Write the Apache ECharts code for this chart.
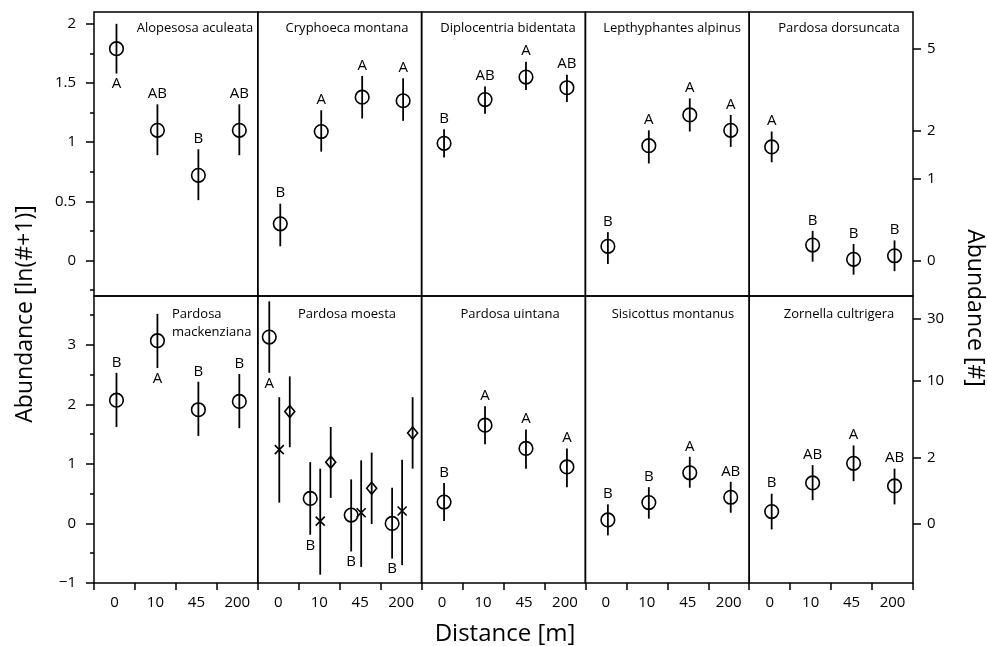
<!DOCTYPE html>
<html>
<head>
<meta charset="utf-8">
<script src="https://cdn.jsdelivr.net/npm/echarts@6/dist/echarts.min.js"></script>
<style>
html, body { margin: 0; padding: 0; background: #fff; }
#main { width: 987px; height: 646px; }
</style>
</head>
<body>
<div id="main"></div>
<script>
// distance classes along the x axis
const distances = ['0', '10', '45', '200'];

// abundance ln(#+1): mean, lower / upper end of bar, letters (top row)
const alopMean = [1.79, 1.10, 0.72, 1.10];
const alopLow = [1.58, 0.89, 0.51, 0.89];
const alopHigh = [2.00, 1.32, 0.94, 1.32];
const alopLetters = ['A', 'AB', 'B', 'AB'];

const cryphMean = [0.31, 1.09, 1.38, 1.35];
const cryphLow = [0.12, 0.92, 1.20, 1.18];
const cryphHigh = [0.48, 1.27, 1.56, 1.54];
const cryphLetters = ['B', 'A', 'A', 'A'];

const diploMean = [0.99, 1.36, 1.55, 1.46];
const diploLow = [0.87, 1.24, 1.44, 1.34];
const diploHigh = [1.11, 1.47, 1.68, 1.57];
const diploLetters = ['B', 'AB', 'A', 'AB'];

const lepthMean = [0.12, 0.97, 1.23, 1.10];
const lepthLow = [-0.03, 0.82, 1.09, 0.96];
const lepthHigh = [0.24, 1.10, 1.37, 1.23];
const lepthLetters = ['B', 'A', 'A', 'A'];

const dorsMean = [0.96, 0.13, 0.01, 0.04];
const dorsLow = [0.83, -0.01, -0.12, -0.09];
const dorsHigh = [1.09, 0.25, 0.14, 0.17];
const dorsLetters = ['A', 'B', 'B', 'B'];

// bottom row
const mackMean = [2.07, 3.07, 1.91, 2.05];
const mackLow = [1.62, 2.61, 1.47, 1.60];
const mackHigh = [2.53, 3.52, 2.38, 2.51];
const mackLetters = ['B', 'A', 'B', 'B'];

const moestaMean = [3.13, 0.42, 0.14, 0.00];
const moestaLow = [2.53, -0.19, -0.47, -0.59];
const moestaHigh = [3.73, 1.03, 0.74, 0.60];
const moestaLetters = ['A', 'B', 'B', 'B'];
const moestaXMean = [1.24, 0.04, 0.18, 0.21];
const moestaXLow = [0.35, -0.86, -0.73, -0.70];
const moestaXHigh = [2.12, 0.92, 1.06, 1.07];
const moestaDMean = [1.88, 1.03, 0.59, 1.52];
const moestaDLow = [1.28, 0.43, -0.01, 0.92];
const moestaDHigh = [2.47, 1.62, 1.19, 2.12];

const uintMean = [0.36, 1.65, 1.26, 0.95];
const uintLow = [0.04, 1.33, 0.92, 0.61];
const uintHigh = [0.68, 1.97, 1.58, 1.26];
const uintLetters = ['B', 'A', 'A', 'A'];

const sisiMean = [0.06, 0.35, 0.85, 0.44];
const sisiLow = [-0.20, 0.08, 0.60, 0.18];
const sisiHigh = [0.32, 0.61, 1.12, 0.70];
const sisiLetters = ['B', 'B', 'A', 'AB'];

const zornMean = [0.20, 0.68, 1.01, 0.63];
const zornLow = [-0.10, 0.39, 0.71, 0.32];
const zornHigh = [0.50, 0.98, 1.31, 0.92];
const zornLetters = ['B', 'AB', 'A', 'AB'];

// axis ticks
const topTicks = [0, 0.5, 1, 1.5, 2];
const topMinor = [-0.25, 0.25, 0.75, 1.25, 1.75];
const bottomTicks = [-1, 0, 1, 2, 3];
const bottomMinor = [-0.5, 0.5, 1.5, 2.5, 3.5];
const topCounts = [0, 1, 2, 5];      // right axis, raw abundance
const bottomCounts = [0, 2, 10, 30];

const FONT = '"Open Sans", "Noto Sans", sans-serif';

const panels = [
  { name: 'Alopesosa aculeata', tx: 190, series: [{ mean: alopMean, low: alopLow, high: alopHigh, letters: alopLetters, below: [0] }] },
  { name: 'Cryphoeca montana', tx: 342, series: [{ mean: cryphMean, low: cryphLow, high: cryphHigh, letters: cryphLetters }] },
  { name: 'Diplocentria bidentata', tx: 503, series: [{ mean: diploMean, low: diploLow, high: diploHigh, letters: diploLetters }] },
  { name: 'Lepthyphantes alpinus', tx: 667, series: [{ mean: lepthMean, low: lepthLow, high: lepthHigh, letters: lepthLetters }] },
  { name: 'Pardosa dorsuncata', tx: 834, series: [{ mean: dorsMean, low: dorsLow, high: dorsHigh, letters: dorsLetters }] },
  { name: 'Pardosa\nmackenziana', tx: 167, left: true, series: [{ mean: mackMean, low: mackLow, high: mackHigh, letters: mackLetters, below: [1] }] },
  { name: 'Pardosa moesta', tx: 342, series: [
      { mean: moestaMean, low: moestaLow, high: moestaHigh, letters: moestaLetters, below: [0, 1, 2, 3], dx: -9 },
      { mean: moestaXMean, low: moestaXLow, high: moestaXHigh, marker: 'cross', dx: 1 },
      { mean: moestaDMean, low: moestaDLow, high: moestaDHigh, marker: 'diamond', dx: 11.5 }
  ] },
  { name: 'Pardosa uintana', tx: 505, series: [{ mean: uintMean, low: uintLow, high: uintHigh, letters: uintLetters }] },
  { name: 'Sisicottus montanus', tx: 668, series: [{ mean: sisiMean, low: sisiLow, high: sisiHigh, letters: sisiLetters }] },
  { name: 'Zornella cultrigera', tx: 834, series: [{ mean: zornMean, low: zornLow, high: zornHigh, letters: zornLetters }] }
];

function marker(kind, x, y) {
  const st = { fill: 'none', stroke: '#000', lineWidth: 1.6 };
  if (kind === 'cross') {
    return { type: 'polyline', shape: { points: [[x - 4.5, y - 4.5], [x + 4.5, y + 4.5], [x, y], [x - 4.5, y + 4.5], [x + 4.5, y - 4.5]] }, style: st };
  }
  if (kind === 'diamond') {
    return { type: 'polygon', shape: { points: [[x, y - 6], [x + 5, y], [x, y + 6], [x - 5, y]] }, style: st };
  }
  return { type: 'circle', shape: { cx: x, cy: y, r: 6.8 }, style: st };
}

function makeRender(s) {
  return function (params, api) {
    const i = api.value(0);
    const c = api.coord([i, api.value(1)]);
    const lo = api.coord([i, api.value(2)]);
    const hi = api.coord([i, api.value(3)]);
    const x = c[0] + (s.dx == null ? 2 : s.dx);
    const kids = [
      { type: 'line', shape: { x1: x, y1: hi[1], x2: x, y2: lo[1] }, style: { stroke: '#000', lineWidth: 1.8 } },
      marker(s.marker, x, c[1])
    ];
    if (s.letters) {
      const under = (s.below || []).indexOf(params.dataIndex) >= 0;
      kids.push({
        type: 'text',
        style: {
          text: s.letters[params.dataIndex], x: x, y: under ? lo[1] + 3 : hi[1] - 3,
          align: 'center', verticalAlign: under ? 'top' : 'bottom',
          fontSize: 15, fontFamily: FONT, fill: '#000'
        }
      });
    }
    return { type: 'group', children: kids };
  };
}

const grids = [], xAxes = [], yAxes = [], series = [], titles = [];
const extraY = [];
const panelW = 163.8;

panels.forEach(function (p, k) {
  const row = k < 5 ? 0 : 1;
  const col = k % 5;
  grids.push({
    left: 94 + col * panelW, width: panelW,
    top: row === 0 ? 12 : 296, height: row === 0 ? 284 : 287,
    show: true, borderColor: '#000', borderWidth: 1.5, backgroundColor: 'transparent'
  });
  xAxes.push({
    type: 'category', gridIndex: k, data: distances, boundaryGap: true, position: 'bottom',
    axisLine: { show: false, onZero: false },
    axisTick: { show: row === 1, length: 7, inside: false, lineStyle: { color: '#000', width: 1.5 } },
    axisLabel: { show: row === 1, margin: 12, fontSize: 15, fontFamily: FONT, color: '#000' },
    splitLine: { show: false }
  });
  const ticks = row === 0 ? topTicks : bottomTicks;
  const yMin = row === 0 ? -0.3 : -1;
  const yMax = row === 0 ? 2.1 : 3.82;
  yAxes.push({
    type: 'value', gridIndex: k, min: yMin, max: yMax, position: 'left',
    axisLine: { show: false },
    axisTick: { show: col === 0, length: 8, customValues: ticks, lineStyle: { color: '#000', width: 1.5 } },
    axisLabel: {
      show: col === 0, customValues: ticks, margin: 18, fontSize: 15, fontFamily: FONT, color: '#000',
      formatter: function (v) { return String(v).replace('-', '\u2212'); }
    },
    splitLine: { show: false }
  });
  if (col === 0) {
    extraY.push({
      type: 'value', gridIndex: k, min: yMin, max: yMax, position: 'left',
      axisLine: { show: false }, axisLabel: { show: false }, splitLine: { show: false },
      axisTick: { show: true, length: 4, customValues: row === 0 ? topMinor : bottomMinor, lineStyle: { color: '#000', width: 1.5 } }
    });
  }
  if (col === 4) {
    const counts = row === 0 ? topCounts : bottomCounts;
    const vals = counts.map(function (n) { return Math.log(n + 1); });
    extraY.push({
      type: 'value', gridIndex: k, min: yMin, max: yMax, position: 'right',
      axisLine: { show: false }, splitLine: { show: false },
      axisTick: { show: true, length: 8, customValues: vals, lineStyle: { color: '#000', width: 1.5 } },
      axisLabel: {
        show: true, customValues: vals, margin: 14, fontSize: 15, fontFamily: FONT, color: '#000',
        formatter: function (v) { return String(Math.round(Math.exp(v) - 1)); }
      }
    });
  }
  titles.push({
    text: p.name, left: p.tx, top: row === 0 ? 14 : 300,
    textAlign: p.left ? 'left' : 'center',
    textStyle: { fontSize: 13, fontWeight: 'normal', fontFamily: FONT, color: '#000', lineHeight: 18.5 }
  });
  p.series.forEach(function (s) {
    series.push({
      type: 'custom', xAxisIndex: k, yAxisIndex: k,
      encode: { x: 0, y: [1, 2, 3] },
      data: distances.map(function (d, i) { return [i, s.mean[i], s.low[i], s.high[i]]; }),
      renderItem: makeRender(s),
      clip: false
    });
  });
});

const option = {
  backgroundColor: '#fff',
  animation: false,
  title: titles,
  grid: grids,
  xAxis: xAxes,
  yAxis: yAxes.concat(extraY),
  series: series,
  graphic: [
    { type: 'text', x: 25, y: 314, rotation: Math.PI / 2,
      style: { text: 'Abundance [ln(#+1)]', align: 'center', verticalAlign: 'middle', fontSize: 23, fontFamily: FONT, fill: '#000' } },
    { type: 'text', x: 975, y: 308, rotation: -Math.PI / 2,
      style: { text: 'Abundance [#]', align: 'center', verticalAlign: 'middle', fontSize: 23, fontFamily: FONT, fill: '#000' } },
    { type: 'text', x: 505, y: 634,
      style: { text: 'Distance [m]', align: 'center', verticalAlign: 'middle', fontSize: 24, fontFamily: FONT, fill: '#000' } }
  ]
};

const chart = echarts.init(document.getElementById('main'));
chart.setOption(option);
</script>
</body>
</html>
